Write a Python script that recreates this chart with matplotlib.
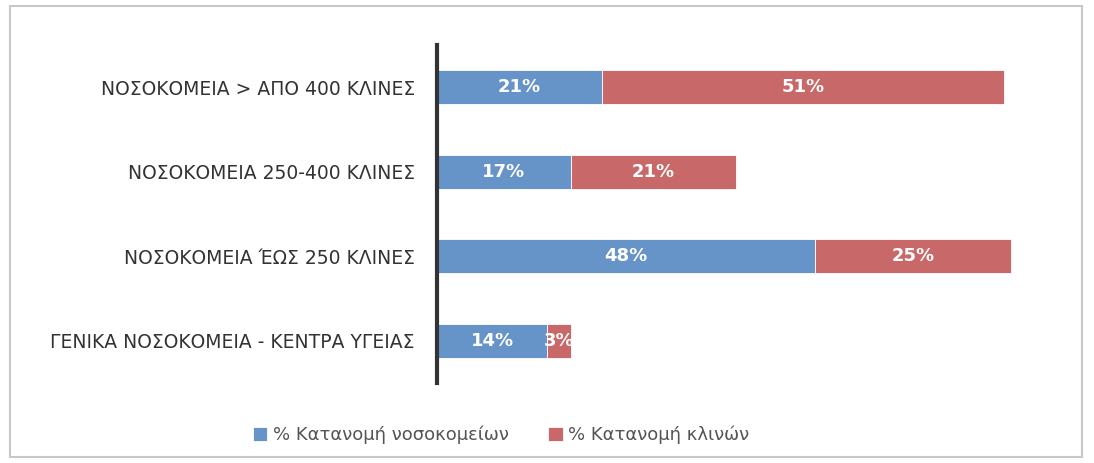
import numpy as np
import matplotlib.pyplot as plt
from matplotlib.patches import Rectangle

categories = ["ΓΕΝΙΚΑ ΝΟΣΟΚΟΜΕΙΑ - ΚΕΝΤΡΑ ΥΓΕΙΑΣ",
              "ΝΟΣΟΚΟΜΕΙΑ ΈΩΣ 250 ΚΛΙΝΕΣ",
              "ΝΟΣΟΚΟΜΕΙΑ 250-400 ΚΛΙΝΕΣ",
              "ΝΟΣΟΚΟΜΕΙΑ > ΑΠΟ 400 ΚΛΙΝΕΣ"]
hospitals = [14, 48, 17, 21]
beds = [3, 25, 21, 51]
series_names = ["% Κατανομή νοσοκομείων", "% Κατανομή κλινών"]

blue = "#6794c8"
red = "#c96868"

plt.rcParams['font.family'] = ['DejaVu Sans']

fig = plt.figure(figsize=(10.94, 4.63), dpi=100)
ax = fig.add_axes([0.3995, 0.173, 0.579, 0.73])

y = np.arange(len(categories))
b1 = ax.barh(y, hospitals, height=0.4, color=blue, edgecolor="white", linewidth=0.6, label=series_names[0])
b2 = ax.barh(y, beds, left=hospitals, height=0.4, color=red, edgecolor="white", linewidth=0.6, label=series_names[1])

for bars, vals in ((b1, hospitals), (b2, beds)):
    for r, v in zip(bars, vals):
        ax.text(r.get_x() + r.get_width() / 2, r.get_y() + r.get_height() / 2, f"{v}%",
                ha="center", va="center", color="white", fontsize=13, fontweight="bold")

ax.set_xlim(0, 80.5)
ax.set_ylim(-0.5, 3.5)
ax.set_yticks(y)
ax.set_yticklabels(categories, fontsize=13.5, color="#333333")
ax.tick_params(axis="y", length=0, pad=16)
ax.set_xticks([])
for s in ("top", "right", "bottom"):
    ax.spines[s].set_visible(False)
ax.spines["left"].set_linewidth(3)
ax.spines["left"].set_color("#333333")

fig.legend(loc="lower center", bbox_to_anchor=(0.458, 0.005), ncol=2, frameon=False,
           fontsize=13, handlelength=0.8, handleheight=0.8, handletextpad=0.3,
           columnspacing=2.2, labelcolor="#555555")

fig.patches.append(Rectangle((0.009, 0.012), 0.98, 0.975, transform=fig.transFigure,
                             fill=False, edgecolor="#c8c8c8", linewidth=1.5))

fig.savefig("out.png", dpi=100)
